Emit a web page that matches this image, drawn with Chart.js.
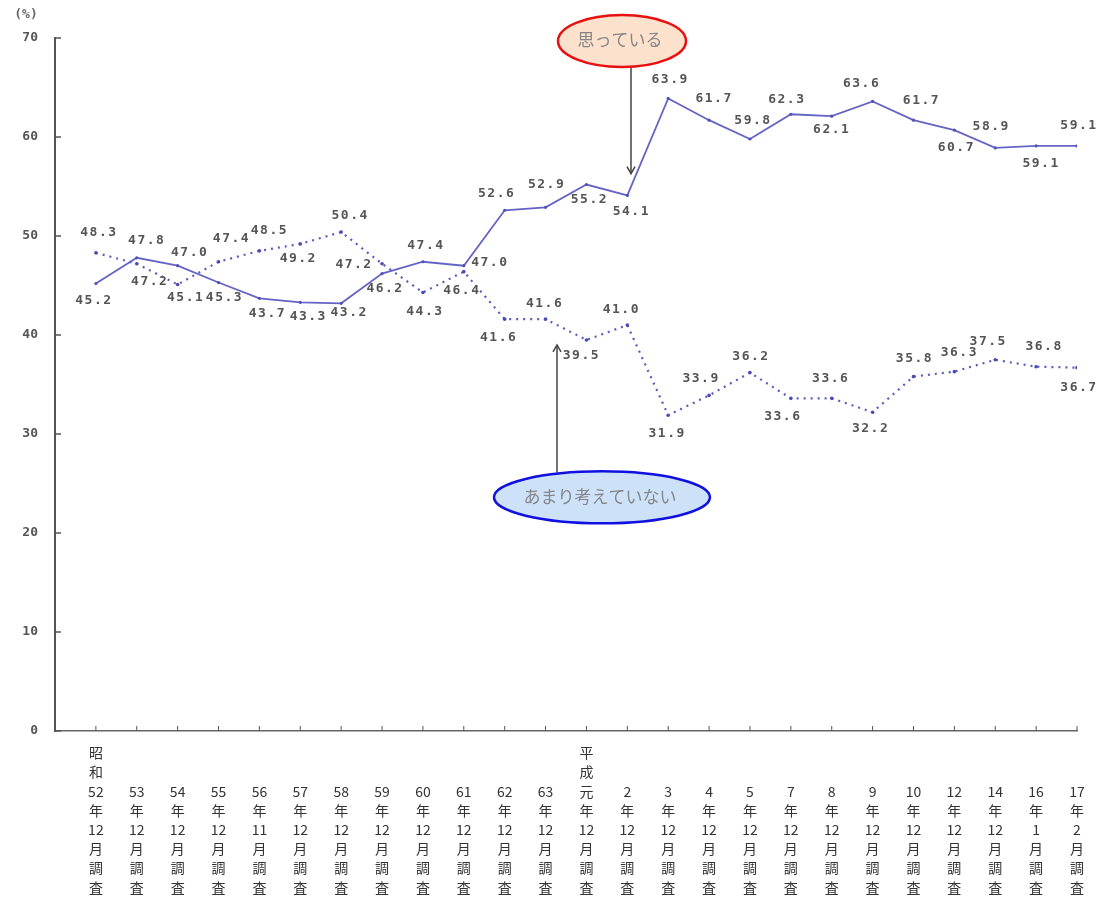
<!DOCTYPE html>
<html>
<head>
<meta charset="utf-8">
<script src="https://cdn.jsdelivr.net/npm/chart.js@4/dist/chart.umd.min.js"></script>
<style>
  html,body{margin:0;padding:0;background:#fff;}
  #wrap{width:1098px;height:902px;position:relative;}
</style>
</head>
<body>
<div id="wrap"><canvas id="c"></canvas></div>
<script>
// survey rounds (vertical labels, one char / number per line)
const categories = [
  ['昭','和','52','年','12','月','調','査'],
  ['53','年','12','月','調','査'],
  ['54','年','12','月','調','査'],
  ['55','年','12','月','調','査'],
  ['56','年','11','月','調','査'],
  ['57','年','12','月','調','査'],
  ['58','年','12','月','調','査'],
  ['59','年','12','月','調','査'],
  ['60','年','12','月','調','査'],
  ['61','年','12','月','調','査'],
  ['62','年','12','月','調','査'],
  ['63','年','12','月','調','査'],
  ['平','成','元','年','12','月','調','査'],
  ['2','年','12','月','調','査'],
  ['3','年','12','月','調','査'],
  ['4','年','12','月','調','査'],
  ['5','年','12','月','調','査'],
  ['7','年','12','月','調','査'],
  ['8','年','12','月','調','査'],
  ['9','年','12','月','調','査'],
  ['10','年','12','月','調','査'],
  ['12','年','12','月','調','査'],
  ['14','年','12','月','調','査'],
  ['16','年','1','月','調','査'],
  ['17','年','2','月','調','査']
];
// 思っている
const thinkValues = [45.2,47.8,47.0,45.3,43.7,43.3,43.2,46.2,47.4,47.0,52.6,52.9,55.2,54.1,63.9,61.7,59.8,62.3,62.1,63.6,61.7,60.7,58.9,59.1,59.1];
// あまり考えていない
const notMuchValues = [48.3,47.2,45.1,47.4,48.5,49.2,50.4,47.2,44.3,46.4,41.6,41.6,39.5,41.0,31.9,33.9,36.2,33.6,33.6,32.2,35.8,36.3,37.5,36.8,36.7];
const yTicks = [0,10,20,30,40,50,60,70];
const seriesNames = ['思っている','あまり考えていない'];

// value label nudges (px), kept apart from the data
const thinkLabelOffsets = [[-3,17],[9,-17],[11,-13],[5,15],[7,15],[7,14],[7,9],[2,15],[2,-16],[25,-3],[-9,-17],[0,-23],[2,15],[3,16],[1,-19],[4,-22],[2,-18],[-5,-15],[-1,13],[-12,-18],[7,-20],[1,18],[-5,-21],[4,18],[1,-20]];
const notMuchLabelOffsets = [[2,-20],[12,18],[7,13],[12,-23],[9,-20],[-3,15],[8,-16],[-29,1],[1,19],[-3,19],[-7,18],[-2,-16],[-6,16],[-7,-15],[-2,18],[-9,-17],[0,-16],[-9,18],[-2,-20],[-3,16],[0,-18],[4,-19],[-8,-18],[7,-20],[1,20]];

const NUM_FONT = 'bold 13px "DejaVu Sans Mono", monospace';

const valueLabels = {
  id:'valueLabels',
  afterDatasetsDraw(chart){
    const ctx = chart.ctx;
    const offs = [thinkLabelOffsets, notMuchLabelOffsets];
    ctx.save();
    ctx.font = NUM_FONT;
    ctx.letterSpacing = '1.5px';
    ctx.fillStyle = '#555';
    ctx.textAlign = 'center';
    ctx.textBaseline = 'middle';
    chart.data.datasets.forEach((ds, di) => {
      chart.getDatasetMeta(di).data.forEach((pt, i) => {
        const o = offs[di][i];
        ctx.fillText(ds.data[i].y.toFixed(1), pt.x + o[0] + 1, pt.y + o[1]);
      });
    });
    ctx.letterSpacing = '0px';
    ctx.restore();
  }
};

const axisDecor = {
  id:'axisDecor',
  afterDraw(chart){
    const ctx = chart.ctx, x = chart.scales.x, y = chart.scales.y;
    const a = chart.chartArea;
    ctx.save();
    // inward tick marks
    ctx.strokeStyle = '#555';
    ctx.lineWidth = 1.5;
    yTicks.forEach(v => {
      const py = y.getPixelForValue(v);
      ctx.beginPath(); ctx.moveTo(a.left, py); ctx.lineTo(a.left + 6, py); ctx.stroke();
    });
    ctx.lineWidth = 1;
    categories.forEach((c, i) => {
      const px = x.getPixelForValue(i);
      ctx.beginPath(); ctx.moveTo(px, a.bottom); ctx.lineTo(px, a.bottom - 5); ctx.stroke();
    });
    // unit
    ctx.font = 'bold 13px "DejaVu Sans Mono", monospace';
    ctx.fillStyle = '#666';
    ctx.textAlign = 'center';
    ctx.textBaseline = 'middle';
    ctx.fillText('(%)', 26, 15);

    // callouts
    function callout(cx, cy, rx, ry, fill, stroke, text, ax, ay0, ay1){
      const px = x.getPixelForValue(cx), py = y.getPixelForValue(cy);
      const arx = x.getPixelForValue(ax);
      const p0 = y.getPixelForValue(ay0), p1 = y.getPixelForValue(ay1);
      // arrow
      ctx.strokeStyle = '#444'; ctx.fillStyle = '#444'; ctx.lineWidth = 1.5;
      ctx.beginPath(); ctx.moveTo(arx, p0); ctx.lineTo(arx, p1); ctx.stroke();
      const dir = p1 > p0 ? 1 : -1;
      ctx.beginPath();
      ctx.moveTo(arx - 4, p1 - dir * 7); ctx.lineTo(arx, p1); ctx.lineTo(arx + 4, p1 - dir * 7);
      ctx.stroke();
      // ellipse
      ctx.beginPath();
      ctx.ellipse(px, py, rx, ry, 0, 0, Math.PI * 2);
      ctx.fillStyle = fill; ctx.fill();
      ctx.lineWidth = 2.5; ctx.strokeStyle = stroke; ctx.stroke();
      ctx.font = '17px "Noto Sans CJK JP", sans-serif';
      ctx.fillStyle = '#85858a';
      ctx.textAlign = 'center'; ctx.textBaseline = 'middle';
      ctx.fillText(text, px - 2, py - 1);
    }
    callout(12.87, 69.7, 64, 26, '#fce2cc', '#e81010', seriesNames[0], 13.09, 67.1, 56.3);
    callout(12.38, 23.6, 108, 26, '#cde2f8', '#1010e0', seriesNames[1], 11.28, 26.1, 39.0);
    ctx.restore();
  }
};

new Chart(document.getElementById('c'), {
  type:'line',
  data:{
    datasets:[
      {
        label:seriesNames[0],
        data:thinkValues.map((v, i) => ({x:i, y:v})),
        borderColor:'#6464c6', backgroundColor:'#5050b8',
        borderWidth:1.8, pointRadius:1.6, pointBorderWidth:0,
        tension:0
      },
      {
        label:seriesNames[1],
        data:notMuchValues.map((v, i) => ({x:i, y:v})),
        borderColor:'#5a5abf', backgroundColor:'#4a4ab4',
        borderWidth:2.2, borderDash:[2,5], pointRadius:1.8, pointBorderWidth:0,
        tension:0
      }
    ]
  },
  options:{
    responsive:true,
    maintainAspectRatio:false,
    animation:false,
    layout:{padding:{top:38, right:21, left:0, bottom:0}},
    plugins:{legend:{display:false}, tooltip:{enabled:false}},
    scales:{
      x:{
        type:'linear', min:-1, max:categories.length - 1,
        grid:{display:true, drawOnChartArea:false, drawTicks:false},
        border:{color:'#666', width:1.5},
        afterFit(s){ s.height = 171; s.paddingLeft = 0; s.paddingRight = 0; },
        afterBuildTicks(s){ s.ticks = categories.map((c, i) => ({value:i})); },
        ticks:{
          autoSkip:false, maxRotation:0, minRotation:0, crossAlign:'far', padding:22,
          color:'#333', font:{family:'"Noto Sans CJK JP", sans-serif', size:14, lineHeight:1.37},
          callback:(v) => categories[Math.round(v)] || ''
        }
      },
      y:{
        min:0, max:70,
        grid:{display:true, drawOnChartArea:false, drawTicks:false},
        border:{color:'#555', width:2},
        afterFit(s){ s.width = 55; },
        afterBuildTicks(s){ s.ticks = yTicks.map(v => ({value:v})); },
        ticks:{
          padding:17, color:'#555',
          font:{family:'"DejaVu Sans Mono", monospace', size:13, weight:'bold'}
        }
      }
    }
  },
  plugins:[valueLabels, axisDecor]
});
</script>
</body>
</html>
